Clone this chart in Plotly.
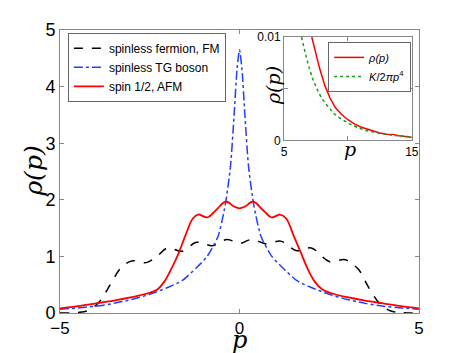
import plotly.graph_objects as go

# main panel: momentum distributions
p_fm = [-5, -4.5, -4.2, -3.9, -3.6, -3.3, -3.0, -2.6, -2.3, -2.0, -1.6, -1.2, -0.75, -0.35, 0,
        0.35, 0.75, 1.15, 1.6, 2.0, 2.5, 2.95, 3.3, 3.6, 3.9, 4.2, 4.5, 5]
rho_fm = [0.0, 0.01, 0.05, 0.2, 0.5, 0.8, 0.92, 0.89, 1.0, 1.15, 1.09, 1.25, 1.19, 1.30, 1.23,
          1.30, 1.22, 1.27, 1.10, 1.15, 0.91, 0.94, 0.78, 0.45, 0.17, 0.04, 0.01, 0.0]

p_tg = [-5, -4.5, -4, -3.5, -3, -2.5, -2, -1.6, -1.2, -0.9, -0.6, -0.4, -0.25, -0.15, -0.07, 0,
        0.07, 0.15, 0.25, 0.4, 0.6, 0.9, 1.2, 1.6, 2, 2.5, 3, 3.5, 4, 4.5, 5]
rho_tg = [0.065, 0.09, 0.12, 0.17, 0.24, 0.33, 0.45, 0.57, 0.8, 1.0, 1.35, 1.9, 2.6, 3.5, 4.3, 4.65,
          4.3, 3.5, 2.6, 1.9, 1.35, 1.0, 0.8, 0.57, 0.45, 0.33, 0.24, 0.17, 0.12, 0.09, 0.065]

p_afm = [-5, -4.5, -4, -3.5, -3, -2.6, -2.3, -2.1, -1.9, -1.7, -1.5, -1.3, -1.15, -0.9, -0.65, -0.38,
         -0.15, 0, 0.15, 0.38, 0.65, 0.9, 1.13, 1.3, 1.5, 1.7, 1.9, 2.1, 2.3, 2.6, 3, 3.5, 4, 4.5, 5]
rho_afm = [0.08, 0.12, 0.17, 0.22, 0.28, 0.34, 0.41, 0.55, 0.78, 1.05, 1.38, 1.67, 1.74, 1.69, 1.82, 1.97,
           1.88, 1.85, 1.88, 1.97, 1.82, 1.69, 1.74, 1.67, 1.38, 1.08, 0.78, 0.55, 0.42, 0.34, 0.28, 0.22,
           0.17, 0.12, 0.08]

# inset: large-p tail
p_tail = [7.17, 7.5, 7.8, 8.2, 8.6, 9.0, 9.5, 10, 10.5, 11, 11.5, 12, 12.5, 13, 13.5, 14, 14.5, 15]
rho_tail = [0.0100, 0.0084, 0.0069, 0.0053, 0.0041, 0.0032, 0.0025, 0.0020, 0.0016, 0.0013, 0.0011,
            0.0009, 0.00072, 0.0006, 0.00058, 0.00045, 0.0004, 0.0003]
p_fit = [6.37, 7, 7.5, 8, 8.5, 9, 10, 11, 12, 13, 14, 15]
rho_fit = [0.0100, 0.0069, 0.0052, 0.0040, 0.0032, 0.0025, 0.0017, 0.00113, 0.0008, 0.00058, 0.00043, 0.00033]

sans = "Liberation Sans"
serif = "DejaVu Serif"

fig = go.Figure()
fig.add_trace(go.Scatter(x=p_fm, y=rho_fm, mode="lines", name="spinless fermion, FM",
                         line=dict(color="black", dash="dash", width=1.5, shape="spline")))
fig.add_trace(go.Scatter(x=p_tg, y=rho_tg, mode="lines", name="spinless TG boson",
                         line=dict(color="#1f3fff", dash="dashdot", width=1.5, shape="spline", smoothing=0.6)))
fig.add_trace(go.Scatter(x=p_afm, y=rho_afm, mode="lines", name="spin 1/2, AFM",
                         line=dict(color="#ff0000", width=1.8, shape="spline")))

fig.add_trace(go.Scatter(x=p_tail, y=rho_tail, mode="lines", name="<i>ρ(p)</i>", xaxis="x2", yaxis="y2",
                         legend="legend2", line=dict(color="#ff0000", width=1.5)))
fig.add_trace(go.Scatter(x=p_fit, y=rho_fit, mode="lines", name="<i>K</i>/2<i>πp</i><sup>4</sup>",
                         xaxis="x2", yaxis="y2", legend="legend2",
                         line=dict(color="#1a9a1a", dash="dot", width=1.5, shape="spline")))

axis_common = dict(showline=True, mirror="ticks", linecolor="#888888", linewidth=1, ticks="inside",
                   tickcolor="#888888", ticklen=4, showgrid=False, zeroline=False)

# the page body adds an 8px margin, so the figure is 8px smaller than the window
fig.update_layout(
    width=455, height=345,
    margin=dict(l=52, r=44, t=18, b=40),
    plot_bgcolor="white", paper_bgcolor="white",
    font=dict(family=sans, color="black"),
    xaxis=dict(domain=[0, 1], range=[-5, 5], tickvals=[-5, 0, 5], tickfont=dict(size=17), **axis_common),
    yaxis=dict(domain=[0, 1], range=[0, 5], tickvals=[0, 1, 2, 3, 4, 5], tickfont=dict(size=18), **axis_common),
    xaxis2=dict(domain=[0.624, 0.98], anchor="y2", range=[5, 15], tickvals=[5, 10, 15], ticktext=["5", "", "15"],
                tickfont=dict(size=12), **axis_common),
    yaxis2=dict(domain=[0.61, 0.975], anchor="x2", range=[0, 0.01], tickvals=[0, 0.005, 0.01],
                ticktext=["0", "", "0.01"], tickfont=dict(size=12), **axis_common),
    legend=dict(x=0.022, y=0.99, xanchor="left", yanchor="top", bgcolor="white", bordercolor="#666666",
                borderwidth=1, font=dict(size=12), tracegroupgap=0, itemwidth=30),
    legend2=dict(x=0.978, y=0.958, xanchor="right", yanchor="top", bgcolor="white", bordercolor="#666666",
                 borderwidth=1, font=dict(size=11), itemwidth=30),
    # white backing so the main curves do not show through the inset
    shapes=[dict(type="rect", xref="x2 domain", yref="y2 domain", x0=0, x1=1, y0=0, y1=1,
                 fillcolor="white", line=dict(width=0), layer="below")],
    annotations=[
        dict(text="<i>ρ(p)</i>", xref="paper", yref="paper", x=-0.075, y=0.5, textangle=-90,
             xanchor="center", yanchor="middle", showarrow=False, font=dict(family=serif, size=25)),
        dict(text="<i>p</i>", xref="paper", yref="paper", x=0.5, y=-0.094, xanchor="center", yanchor="middle",
             showarrow=False, font=dict(family=serif, size=24)),
        dict(text="<i>ρ(p)</i>", xref="paper", yref="paper", x=0.593, y=0.805, textangle=-90,
             xanchor="center", yanchor="middle", showarrow=False, font=dict(family=serif, size=19)),
        dict(text="<i>p</i>", xref="paper", yref="paper", x=0.808, y=0.578, xanchor="center", yanchor="middle",
             showarrow=False, font=dict(family=serif, size=19)),
    ],
)

fig.write_html("out.html")
